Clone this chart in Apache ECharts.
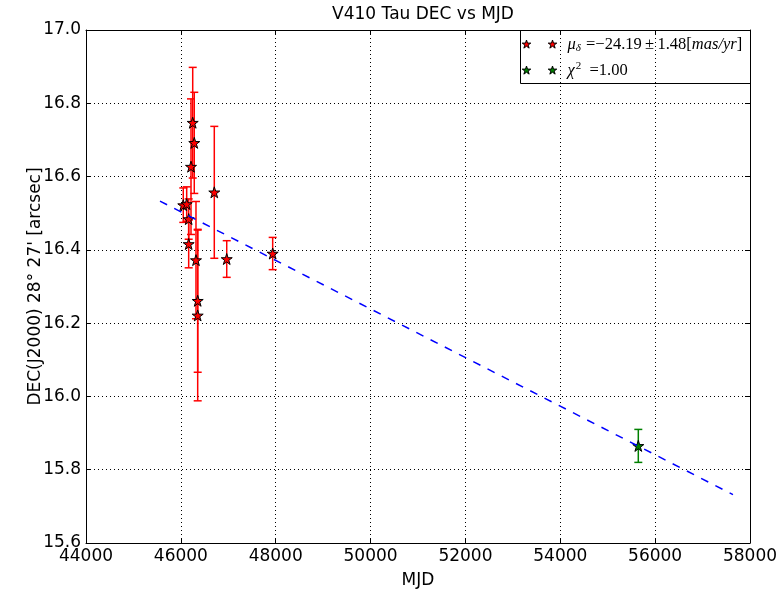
<!DOCTYPE html>
<html>
<head>
<meta charset="utf-8">
<script src="https://cdn.jsdelivr.net/npm/echarts@6/dist/echarts.min.js"></script>
<style>
html,body{margin:0;padding:0;background:#fff;}
#chart{width:783px;height:590px;}
</style>
</head>
<body>
<div id="chart"></div>
<script>
// ---- data ----
const mjd = [46250, 46283, 46214, 46051, 46123, 46165, 46165, 46705, 46319, 46355, 46355, 46967, 47936];
const dec = [16.747, 16.692, 16.627, 16.522, 16.525, 16.484, 16.416, 16.557, 16.372, 16.261, 16.221, 16.375, 16.390];
const decErr = [0.151, 0.138, 0.185, 0.047, 0.047, 0.055, 0.065, 0.180, 0.160, 0.195, 0.233, 0.050, 0.044];

const mjdNew = [55645];
const decNew = [15.865];
const decNewErr = [0.045];

const fitMjd = [45560, 57641];
const fitDec = [16.533, 15.732];

const xTicks = [44000, 46000, 48000, 50000, 52000, 54000, 56000, 58000];
const yTicks = [15.6, 15.8, 16.0, 16.2, 16.4, 16.6, 16.8, 17.0];

const titleText = 'V410 Tau DEC vs MJD';
const xName = 'MJD';
const yName = 'DEC(J2000) 28\u00B0 27\' [arcsec]';

// ---- chart ----
const FONT = 'DejaVu Sans';
const MATH = 'Liberation Serif';
const starPath = 'path://M0,-1L0.2245,-0.309L0.951,-0.309L0.363,0.118L0.588,0.809L0,0.382L-0.588,0.809L-0.363,0.118L-0.951,-0.309L-0.2245,-0.309Z';

function starPoints(cx, cy, r) {
  const pts = [];
  for (let k = 0; k < 10; k++) {
    const rr = (k % 2 === 0) ? r : r * 0.382;
    const a = -Math.PI / 2 + k * Math.PI / 5;
    pts.push([cx + rr * Math.cos(a), cy + rr * Math.sin(a)]);
  }
  return pts;
}

function errData(xs, ys, es) {
  return xs.map((x, i) => [x, ys[i] - es[i], ys[i] + es[i]]);
}

function errRender(color) {
  return function (params, api) {
    const x = api.value(0);
    const p1 = api.coord([x, api.value(2)]);
    const p2 = api.coord([x, api.value(1)]);
    const hw = 4;
    const st = { stroke: color, lineWidth: 1.5 };
    return {
      type: 'group',
      children: [
        { type: 'line', shape: { x1: p1[0], y1: p1[1], x2: p2[0], y2: p2[1] }, style: st },
        { type: 'line', shape: { x1: p1[0] - hw, y1: p1[1], x2: p1[0] + hw, y2: p1[1] }, style: st },
        { type: 'line', shape: { x1: p2[0] - hw, y1: p2[1], x2: p2[0] + hw, y2: p2[1] }, style: st }
      ]
    };
  };
}

const chart = echarts.init(document.getElementById('chart'), null, { renderer: 'canvas' });

const gridLeft = 86, gridRight = 33, gridTop = 30, gridBottom = 47;
const W = 783;
const plotCenter = gridLeft + (W - gridLeft - gridRight) / 2;

const axisCommon = {
  axisLine: { show: true, onZero: false, lineStyle: { color: '#000', width: 1 } },
  axisTick: { show: true, inside: true, length: 5, lineStyle: { color: '#000', width: 1 } },
  splitLine: { show: false }
};

const option = {
  backgroundColor: '#fff',
  animation: false,
  title: {
    text: titleText,
    left: plotCenter,
    textAlign: 'center',
    top: 1,
    textStyle: { fontFamily: FONT, fontSize: 17, fontWeight: 'normal', color: '#000' }
  },
  grid: { left: gridLeft, right: gridRight, top: gridTop, bottom: gridBottom, containLabel: false, outerBoundsMode: 'none' },
  xAxis: [
    Object.assign({}, axisCommon, {
      type: 'value', min: xTicks[0], max: xTicks[xTicks.length - 1], interval: 2000,
      position: 'bottom',
      name: xName, nameLocation: 'middle', nameGap: 29, nameMoveOverlap: false,
      nameTextStyle: { fontFamily: FONT, fontSize: 17, color: '#000' },
      axisLabel: { fontFamily: FONT, fontSize: 17, color: '#000', margin: 5, formatter: v => String(v) },
      splitLine: { show: true, lineStyle: { color: '#000', type: [1, 3], width: 1 } }
    }),
    Object.assign({}, axisCommon, {
      type: 'value', min: xTicks[0], max: xTicks[xTicks.length - 1], interval: 2000,
      position: 'top', axisLabel: { show: false }
    })
  ],
  yAxis: [
    Object.assign({}, axisCommon, {
      type: 'value', min: yTicks[0], max: yTicks[yTicks.length - 1], interval: 0.2,
      position: 'left',
      name: yName, nameLocation: 'middle', nameGap: 42, nameRotate: 90, nameMoveOverlap: false,
      nameTextStyle: { fontFamily: FONT, fontSize: 17, color: '#000' },
      axisLabel: { fontFamily: FONT, fontSize: 17, color: '#000', margin: 5, formatter: v => v.toFixed(1) },
      splitLine: { show: true, lineStyle: { color: '#000', type: [1, 3], width: 1 } }
    }),
    Object.assign({}, axisCommon, {
      type: 'value', min: yTicks[0], max: yTicks[yTicks.length - 1], interval: 0.2,
      position: 'right', axisLabel: { show: false }
    })
  ],
  series: [
    {
      type: 'custom', name: 'err', xAxisIndex: 0, yAxisIndex: 0,
      renderItem: errRender('#ff0000'),
      data: errData(mjd, dec, decErr), z: 2, clip: true
    },
    {
      type: 'custom', name: 'errNew', xAxisIndex: 0, yAxisIndex: 0,
      renderItem: errRender('#008000'),
      data: errData(mjdNew, decNew, decNewErr), z: 2, clip: true
    },
    {
      type: 'scatter', xAxisIndex: 0, yAxisIndex: 0,
      data: mjd.map((x, i) => [x, dec[i]]),
      symbol: starPath, symbolSize: 11,
      itemStyle: { color: '#ff0000', borderColor: '#000', borderWidth: 1, opacity: 1 },
      z: 3
    },
    {
      type: 'scatter', xAxisIndex: 0, yAxisIndex: 0,
      data: mjdNew.map((x, i) => [x, decNew[i]]),
      symbol: starPath, symbolSize: 11,
      itemStyle: { color: '#008000', borderColor: '#000', borderWidth: 1, opacity: 1 },
      z: 3
    },
    {
      type: 'line', xAxisIndex: 0, yAxisIndex: 0,
      data: fitMjd.map((x, i) => [x, fitDec[i]]),
      showSymbol: false, symbol: 'none',
      lineStyle: { color: '#0000ff', width: 1.5, type: [8, 8] },
      z: 4
    }
  ],
  graphic: [
    {
      type: 'group', left: 520, top: 30, z: 10,
      children: [
        { type: 'rect', shape: { x: 0, y: 0, width: 230, height: 53 }, style: { fill: '#fff', stroke: '#000', lineWidth: 1 } },
        { type: 'polygon', shape: { points: starPoints(6, 14, 4.5) }, style: { fill: '#ff0000', stroke: '#000', lineWidth: 1 } },
        { type: 'polygon', shape: { points: starPoints(32, 14, 4.5) }, style: { fill: '#ff0000', stroke: '#000', lineWidth: 1 } },
        { type: 'polygon', shape: { points: starPoints(6, 40, 4.5) }, style: { fill: '#008000', stroke: '#000', lineWidth: 1 } },
        { type: 'polygon', shape: { points: starPoints(32, 40, 4.5) }, style: { fill: '#008000', stroke: '#000', lineWidth: 1 } },
        {
          type: 'text', x: 47, y: 14,
          style: {
            text: '{i|\u03BC}{sub|\u03B4}{n| =\u221224.19\u2009\u00B1\u20091.48[}{i|mas/yr}{n|]}',
            verticalAlign: 'middle',
            rich: {
              i: { fontFamily: MATH, fontStyle: 'italic', fontSize: 16.5, fill: '#000' },
              sub: { fontFamily: MATH, fontStyle: 'italic', fontSize: 11, fill: '#000', padding: [7, 1, 0, 0] },
              n: { fontFamily: MATH, fontSize: 16.5, fill: '#000' }
            }
          }
        },
        {
          type: 'text', x: 47, y: 40,
          style: {
            text: '{i|\u03C7}{sup|2}{n|  =1.00}',
            verticalAlign: 'middle',
            rich: {
              i: { fontFamily: MATH, fontStyle: 'italic', fontSize: 16.5, fill: '#000' },
              sup: { fontFamily: MATH, fontSize: 11, fill: '#000', padding: [0, 0, 9, 1] },
              n: { fontFamily: MATH, fontSize: 16.5, fill: '#000' }
            }
          }
        }
      ]
    }
  ]
};

chart.setOption(option);
</script>
</body>
</html>
